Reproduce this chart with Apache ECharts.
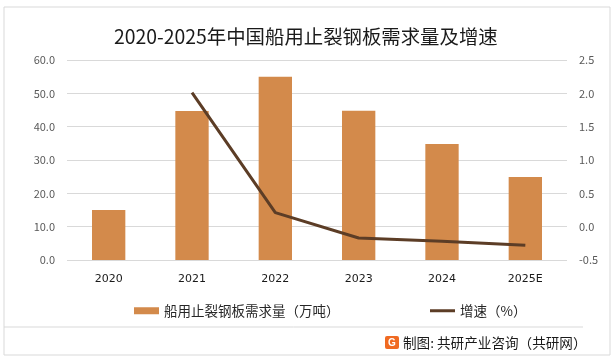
<!DOCTYPE html>
<html><head><meta charset="utf-8">
<script src="https://cdn.jsdelivr.net/npm/echarts@6/dist/echarts.min.js"></script>
<style>html,body{margin:0;padding:0;background:#fff}#c{width:614px;height:361px}</style>
</head><body><div id="c"></div>
<script>
const categories = ['2020','2021','2022','2023','2024','2025E'];
const demand = [15.0, 44.7, 55.0, 44.8, 34.8, 24.9];
const growth = [null, 2.01, 0.21, -0.17, -0.22, -0.28];
const leftTicks = [0, 60, 10];
const rightTicks = [-0.5, 2.5, 0.5];
const barName = '船用止裂钢板需求量（万吨）';
const lineName = '增速（%）';

const chart = echarts.init(document.getElementById('c'));
const font = '"Microsoft YaHei","Noto Sans CJK SC",sans-serif';
const legendText = {fontSize:13.5,color:'#262626',fontFamily:font};
chart.setOption({
  animation:false,
  textStyle:{fontFamily:font},
  title:{text:'2020-2025年中国船用止裂钢板需求量及增速',left:109,top:22,
    textStyle:{fontSize:19.4,fontWeight:'normal',color:'#1a1a1a',fontFamily:font}},
  grid:{left:67,right:47,top:60,bottom:101},
  legend:[
    {top:299,left:129,itemWidth:25,itemHeight:7,itemGap:5,textStyle:legendText,
      data:[{name:barName,icon:'rect'}]},
    {top:299,left:425,itemWidth:25,itemHeight:3,textStyle:legendText,
      data:[{name:lineName,icon:'rect',itemStyle:{color:'#5c3d26'}}]}
  ],
  xAxis:{type:'category',data:categories,
    axisLine:{show:false},axisTick:{show:false},
    axisLabel:{color:'#1a1a1a',fontSize:11,margin:14,fontFamily:'"DejaVu Sans",sans-serif'}},
  yAxis:[
    {type:'value',min:leftTicks[0],max:leftTicks[1],interval:leftTicks[2],
      axisLabel:{formatter:v=>v.toFixed(1),color:'#595959',fontSize:11,margin:12},
      splitLine:{lineStyle:{color:'#d9d9d9'}},axisLine:{show:false},axisTick:{show:false}},
    {type:'value',min:rightTicks[0],max:rightTicks[1],interval:rightTicks[2],
      axisLabel:{formatter:v=>v.toFixed(1),color:'#595959',fontSize:11,margin:12},
      splitLine:{show:false},axisLine:{show:false},axisTick:{show:false}}
  ],
  series:[
    {name:barName,type:'bar',data:demand,barWidth:'40%',itemStyle:{color:'#d38a4b'}},
    {name:lineName,type:'line',yAxisIndex:1,data:growth,symbol:'none',
      lineStyle:{color:'#5c3d26',width:3},itemStyle:{color:'#5c3d26'}}
  ],
  graphic:[
    {type:'rect',shape:{x:4,y:7,width:606,height:348},style:{fill:'none',stroke:'#d9d9d9',lineWidth:1},silent:true},
    {type:'line',shape:{x1:4,y1:327,x2:583,y2:327},style:{stroke:'#d9d9d9',lineWidth:1}},
    {type:'rect',shape:{x:385,y:336,width:14,height:13,r:2},style:{fill:'#f06a22'}},
    {type:'text',style:{x:392,y:343,text:'G',fill:'#fff',font:'bold 10px sans-serif',align:'center',verticalAlign:'middle'}},
    {type:'text',style:{x:403,y:343,text:'制图: 共研产业咨询（共研网）',fill:'#1a1a1a',font:'13.6px "Microsoft YaHei","Noto Sans CJK SC",sans-serif',verticalAlign:'middle'}}
  ]
});
</script></body></html>
